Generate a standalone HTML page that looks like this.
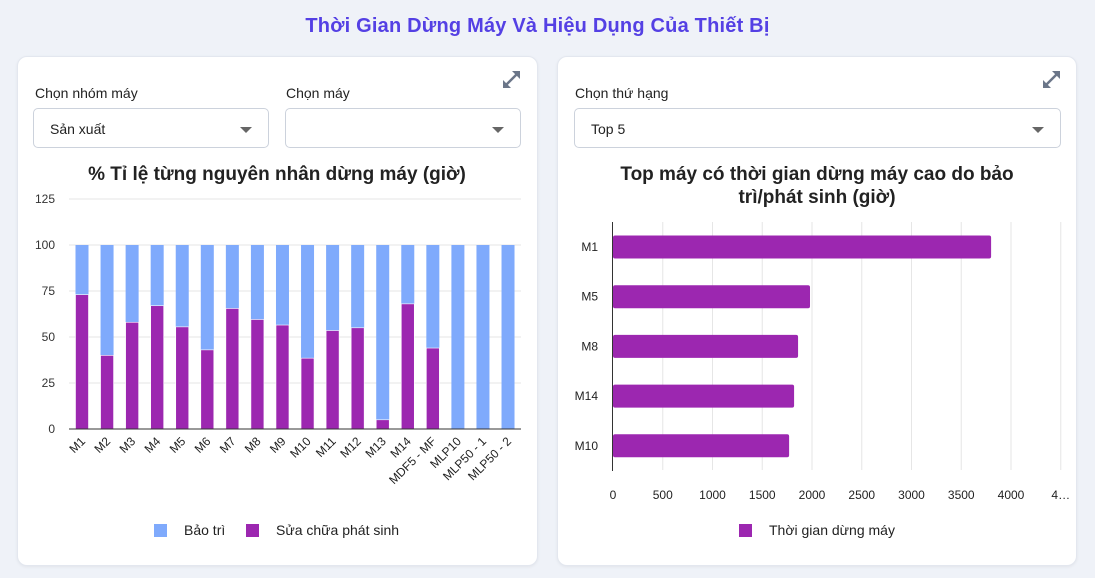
<!DOCTYPE html>
<html><head><meta charset="utf-8"><style>
body{margin:0;width:1095px;height:578px;background:#eff2f8;font-family:"Liberation Sans",sans-serif;overflow:hidden;position:relative}
.card{position:absolute;background:#fff;border-radius:10px;border:1px solid #e3e7ef;box-shadow:0 1px 3px rgba(0,0,0,.06)}
.lbl{position:absolute;font-size:14px;color:#222}
.sel{position:absolute;border:1px solid #ccd2dc;border-radius:5px;height:40px;box-sizing:border-box;font-size:14px;color:#222;line-height:40px;padding-left:16px}
.sel:after{content:"";position:absolute;right:16px;top:18px;border-left:6px solid transparent;border-right:6px solid transparent;border-top:6px solid #666}
svg{position:absolute;left:0;top:0}
</style></head><body>
<div style="position:absolute;top:15px;left:0;width:1075px;text-align:center;font-size:20px;font-weight:bold;color:#5440e4;letter-spacing:0.2px">Thời Gian Dừng Máy Và Hiệu Dụng Của Thiết Bị</div>
<div class="card" style="left:17px;top:56px;width:519px;height:508px"></div>
<div class="card" style="left:557px;top:56px;width:518px;height:508px"></div>
<div class="lbl" style="left:35px;top:85px">Chọn nhóm máy</div>
<div class="lbl" style="left:286px;top:85px">Chọn máy</div>
<div class="lbl" style="left:575px;top:85px">Chọn thứ hạng</div>
<div class="sel" style="left:33px;top:108px;width:236px">Sản xuất</div>
<div class="sel" style="left:285px;top:108px;width:236px"></div>
<div class="sel" style="left:574px;top:108px;width:487px">Top 5</div>
<svg width="1095" height="578" id="s" font-family="Liberation Sans, sans-serif">
<g stroke="#6b7689" stroke-width="2.5" fill="#6b7689">
<line x1="505" y1="86" x2="518" y2="73"/><polygon points="520,71 520,79 512,71" stroke="none"/><polygon points="503,88 503,80 511,88" stroke="none"/>
<line x1="1045" y1="86" x2="1058" y2="73"/><polygon points="1060,71 1060,79 1052,71" stroke="none"/><polygon points="1043,88 1043,80 1051,88" stroke="none"/>
</g>
<text x="277" y="180" text-anchor="middle" font-size="19" font-weight="bold" fill="#222">% Tỉ lệ từng nguyên nhân dừng máy (giờ)</text>
<text x="817" y="180" text-anchor="middle" font-size="19" font-weight="bold" fill="#222">Top máy có thời gian dừng máy cao do bảo</text>
<text x="817" y="203" text-anchor="middle" font-size="19" font-weight="bold" fill="#222">trì/phát sinh (giờ)</text>
<g id="L"></g><g id="R"></g>
<rect x="154" y="524" width="13" height="13" fill="#7faafc"/><text x="184" y="535" font-size="14" fill="#222">Bảo trì</text>
<rect x="246" y="524" width="13" height="13" fill="#9c27b0"/><text x="276" y="535" font-size="14" fill="#222">Sửa chữa phát sinh</text>
<rect x="739" y="524" width="13" height="13" fill="#9c27b0"/><text x="769" y="535" font-size="14" fill="#222">Thời gian dừng máy</text>
</svg>
<script>
var L=document.getElementById('L'),R=document.getElementById('R'),h='';
[0,25,50,75,100,125].forEach(function(v){var y=429-v*1.84;
 if(v)h+='<line x1="69" x2="521" y1="'+y+'" y2="'+y+'" stroke="#e6e6e6"/>';
 h+='<text x="55" y="'+(y+4)+'" text-anchor="end" font-size="12" fill="#333">'+v+'</text>';});
var vals=[73,40,58,67,55.5,43,65.5,59.5,56.5,38.5,53.5,55,5,68,44,0,0,0];
var names=['M1','M2','M3','M4','M5','M6','M7','M8','M9','M10','M11','M12','M13','M14','MDF5 - MF','MLP10','MLP50 - 1','MLP50 - 2'];
vals.forEach(function(v,i){var cx=82+i*25.06,x=cx-6.5,t=429-v*1.84;
 h+='<rect x="'+x+'" y="245" width="13" height="'+(t-245)+'" fill="#7faafc"/>';
 if(v)h+='<rect x="'+x+'" y="'+t+'" width="13" height="'+(429-t)+'" fill="#9c27b0" stroke="#fff" stroke-width="0.6"/>';
 h+='<text transform="translate('+(cx+4)+',442) rotate(-45)" text-anchor="end" font-size="12" fill="#222">'+names[i]+'</text>';});
h+='<line x1="69" x2="521" y1="429" y2="429" stroke="#333"/>';
L.innerHTML=h;h='';
for(var k=0;k<=9;k++){var x=613+k*49.75;
 if(k)h+='<line x1="'+x+'" x2="'+x+'" y1="222" y2="470" stroke="#e6e6e6"/>';
 h+='<text x="'+x+'" y="499" text-anchor="middle" font-size="12" fill="#222">'+(k==9?'4…':k*500)+'</text>';}
[['M1',3800],['M5',1980],['M8',1860],['M14',1820],['M10',1770]].forEach(function(d,i){var y=247+i*49.7;
 h+='<rect x="613" y="'+(y-11.5)+'" width="'+(d[1]*0.0995)+'" height="23" rx="2" fill="#9c27b0"/>';
 h+='<text x="598" y="'+(y+4)+'" text-anchor="end" font-size="12" fill="#222">'+d[0]+'</text>';});
h+='<line x1="612.5" x2="612.5" y1="222" y2="471" stroke="#333"/>';
R.innerHTML=h;
</script>
</body></html>
